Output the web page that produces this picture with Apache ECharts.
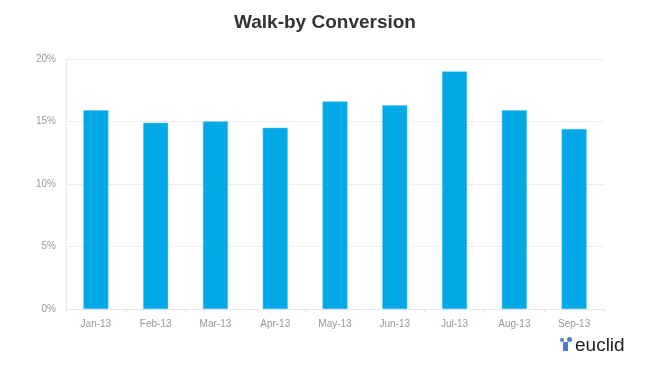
<!DOCTYPE html>
<html>
<head>
<meta charset="utf-8">
<script src="https://cdn.jsdelivr.net/npm/echarts@6/dist/echarts.min.js"></script>
<style>html,body{margin:0;padding:0;background:#fff;}#c{width:650px;height:375px;}</style>
</head>
<body>
<div id="c"></div>
<script>
const categories = ['Jan-13','Feb-13','Mar-13','Apr-13','May-13','Jun-13','Jul-13','Aug-13','Sep-13'];
const conversion = [15.9, 14.9, 15.0, 14.5, 16.6, 16.3, 19.0, 15.9, 14.4];
const yTicks = [0, 5, 10, 15, 20];

const chart = echarts.init(document.getElementById('c'));
chart.setOption({
  animation: false,
  backgroundColor: '#fff',
  title: {
    text: 'Walk-by Conversion',
    left: 'center',
    top: 8,
    textStyle: { fontFamily: 'Liberation Sans, Arial, sans-serif', fontSize: 19, fontWeight: 'bold', color: '#333' }
  },
  grid: { left: 66, right: 46, top: 59, bottom: 66 },
  xAxis: {
    type: 'category',
    data: categories,
    axisLine: { lineStyle: { color: '#e6e6e6' } },
    axisTick: { show: true, alignWithLabel: false, length: 3, lineStyle: { color: '#e6e6e6' } },
    axisLabel: { color: '#999', fontSize: 10, fontFamily: 'Liberation Sans, Arial, sans-serif', margin: 10 }
  },
  yAxis: {
    type: 'value',
    min: yTicks[0],
    max: yTicks[yTicks.length - 1],
    interval: 5,
    axisLine: { show: true, lineStyle: { color: '#eaeaea' } },
    axisTick: { show: false },
    splitLine: { lineStyle: { color: '#eeeeee' } },
    axisLabel: { color: '#999', fontSize: 10, fontFamily: 'Liberation Sans, Arial, sans-serif', formatter: v => v + '%', margin: 10 }
  },
  series: [{
    type: 'bar',
    data: conversion,
    barWidth: 25,
    itemStyle: { color: '#03a9e6', borderColor: '#4cc4f0', borderWidth: 0.5 }
  }],
  graphic: [
    { type: 'rect', left: 563, top: 342, shape: { width: 5, height: 9 }, style: { fill: '#4a7fc8' } },
    { type: 'circle', left: 560, top: 338, shape: { r: 2 }, style: { fill: '#4a7fc8' } },
    { type: 'circle', left: 567, top: 337, shape: { r: 2.5 }, style: { fill: '#4a7fc8' } },
    { type: 'text', left: 575, top: 336, style: { text: 'euclid', fontSize: 19, fontFamily: 'Liberation Sans, Arial, sans-serif', fill: '#222' } }
  ]
});
</script>
</body>
</html>
